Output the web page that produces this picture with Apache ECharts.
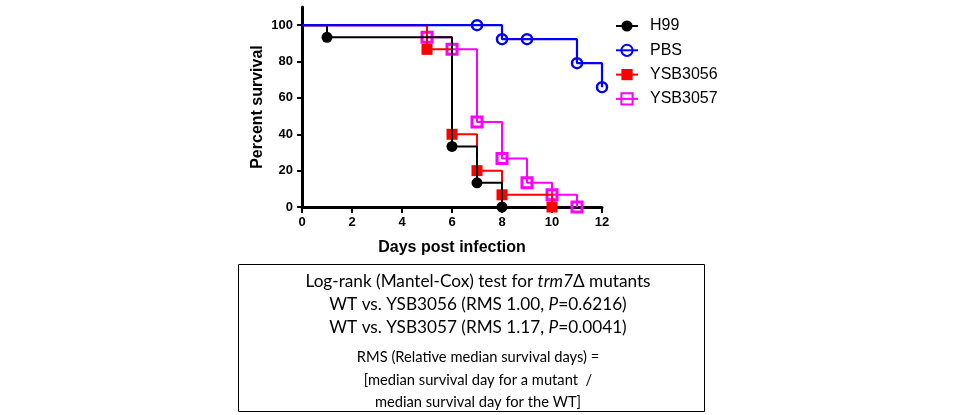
<!DOCTYPE html>
<html>
<head>
<meta charset="utf-8">
<script src="https://cdn.jsdelivr.net/npm/echarts@6/dist/echarts.min.js"></script>
<style>
html,body{margin:0;padding:0;background:#fff;}
#chart{width:960px;height:415px;}
</style>
</head>
<body>
<div id="chart"></div>
<script>
// Kaplan-Meier survival data: [day, percent survival]
const seriesNames = ['H99', 'PBS', 'YSB3056', 'YSB3057'];
const h99 = [[0, 100], [1, 93.3], [6, 33.3], [7, 13.3], [8, 0]];
const pbs = [[0, 100], [7, 100], [8, 92.3], [9, 92.3], [11, 79.1], [12, 65.9]];
const ysb3056 = [[0, 100], [5, 86.7], [6, 40], [7, 20], [8, 6.7], [10, 0]];
const ysb3057 = [[0, 100], [5, 93.3], [6, 86.7], [7, 46.7], [8, 26.7], [9, 13.3], [10, 6.7], [11, 0]];
const yTicks = [0, 20, 40, 60, 80, 100];
const xTitle = 'Days post infection';
const yTitle = 'Percent survival';
const boxLines = [
  'Log-rank (Mantel-Cox) test for {i|trm7}Δ mutants',
  'WT vs. YSB3056 (RMS 1.00, {i|P}=0.6216)',
  'WT vs. YSB3057 (RMS 1.17, {i|P}=0.0041)',
  'RMS (Relative median survival days) =',
  '[median survival day for a mutant  /',
  'median survival day for the WT]'
];

function km(data) {
  // first point (day 0) has no marker
  return data.map((d, i) => i === 0 ? { value: d, symbol: 'none' } : { value: d });
}

const AX = 'Liberation Sans, Arial, sans-serif';
const BOXF = 'Lato, Carlito, Calibri, sans-serif';

const chart = echarts.init(document.getElementById('chart'), null, { renderer: 'canvas' });

const boxY = [281, 304, 327, 357, 380, 402];
const boxSize = [17.2, 17.2, 17.2, 14.7, 14.7, 14.7];
const boxGraphics = [{
  type: 'rect',
  shape: { x: 238.5, y: 264.5, width: 466, height: 147 },
  style: { fill: '#fff', stroke: '#000', lineWidth: 1 }
}];
boxLines.forEach((t, k) => {
  boxGraphics.push({
    type: 'text',
    x: 478, y: boxY[k],
    style: {
      text: t,
      fontFamily: BOXF, fontSize: boxSize[k], fill: '#000',
      align: 'center', verticalAlign: 'middle',
      rich: { i: { fontFamily: BOXF, fontSize: boxSize[k], fontStyle: 'italic', fill: '#000' } }
    }
  });
});

const option = {
  animation: false,
  backgroundColor: '#fff',
  grid: { left: 302, right: 358, top: 7, bottom: 208, containLabel: false },
  xAxis: {
    type: 'value', min: 0, max: 12, interval: 2,
    name: xTitle, nameLocation: 'middle', nameGap: 33,
    nameTextStyle: { fontFamily: AX, fontSize: 16, fontWeight: 'bold', color: '#000' },
    axisLine: { show: true, onZero: false, lineStyle: { color: '#000', width: 3 } },
    axisTick: { show: true, length: 6, lineStyle: { color: '#000', width: 2 } },
    axisLabel: { fontFamily: AX, fontSize: 13, fontWeight: 'bold', color: '#000', margin: 9 },
    splitLine: { show: false }
  },
  yAxis: {
    type: 'value', min: 0, max: 110,
    name: yTitle, nameLocation: 'middle', nameGap: 36,
    nameTextStyle: { fontFamily: AX, fontSize: 16, fontWeight: 'bold', color: '#000' },
    axisLine: { show: true, onZero: false, lineStyle: { color: '#000', width: 3 } },
    axisTick: { show: true, length: 5, customValues: yTicks, lineStyle: { color: '#000', width: 2 } },
    axisLabel: { fontFamily: AX, fontSize: 13, fontWeight: 'bold', color: '#000', margin: 9, customValues: yTicks },
    splitLine: { show: false }
  },
  legend: {
    data: seriesNames,
    orient: 'vertical', left: 615, top: 18, padding: 0,
    itemWidth: 22, itemHeight: 14, itemGap: 8.3,
    textStyle: { fontFamily: AX, fontSize: 16, color: '#000', padding: [0, 0, 0, 7] }
  },
  series: [
    {
      name: 'YSB3057', type: 'line', step: 'end', z: 2,
      data: km(ysb3057), symbol: 'rect', symbolSize: 10,
      lineStyle: { color: '#ff00ff', width: 2 },
      itemStyle: { color: 'rgba(255,255,255,0)', borderColor: '#ff00ff', borderWidth: 3 }
    },
    {
      name: 'YSB3056', type: 'line', step: 'end', z: 3,
      data: km(ysb3056), symbol: 'rect', symbolSize: 11,
      lineStyle: { color: '#ff0000', width: 2 },
      itemStyle: { color: '#ff0000', borderWidth: 0 }
    },
    {
      name: 'H99', type: 'line', step: 'end', z: 4,
      data: km(h99), symbol: 'circle', symbolSize: 11,
      lineStyle: { color: '#000', width: 2 },
      itemStyle: { color: '#000', borderWidth: 0 }
    },
    {
      name: 'PBS', type: 'line', step: 'end', z: 5,
      data: km(pbs), symbol: 'circle', symbolSize: 10,
      lineStyle: { color: '#0000ff', width: 2.2 },
      itemStyle: { color: 'rgba(255,255,255,0)', borderColor: '#0000ff', borderWidth: 2.5 }
    }
  ],
  graphic: boxGraphics
};
chart.setOption(option);
</script>
</body>
</html>
